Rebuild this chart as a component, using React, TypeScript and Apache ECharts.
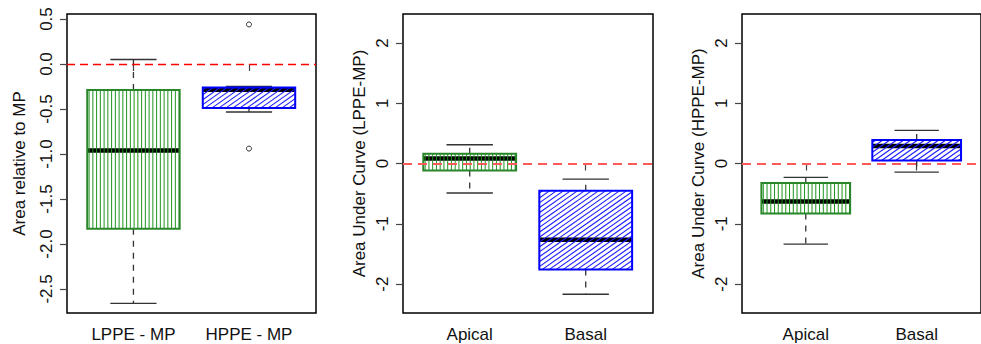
import React, { useEffect, useRef } from 'react';
import * as echarts from 'echarts';

// ---- data ----
const panel1Categories = ['LPPE - MP', 'HPPE - MP'];
// [min, Q1, median, Q3, max]
const panel1Stats = [
  [-2.66, -1.83, -0.96, -0.29, 0.05],
  [-0.533, -0.49, -0.285, -0.26, -0.25],
];
const panel1Outliers = [
  [2, 0.44],
  [2, -0.94],
];
const panel1Ticks = [-2.5, -2, -1.5, -1, -0.5, 0, 0.5];

const panel2Categories = ['Apical', 'Basal'];
const panel2Stats = [
  [-0.49, -0.115, 0.083, 0.16, 0.31],
  [-2.17, -1.76, -1.265, -0.45, -0.26],
];

const panel3Categories = ['Apical', 'Basal'];
const panel3Stats = [
  [-1.337, -0.83, -0.63, -0.325, -0.23],
  [-0.143, 0.05, 0.29, 0.39, 0.55],
];
const aucTicks = [-2, -1, 0, 1, 2];

const yTitles = ['Area relative to MP', 'Area Under Curve (LPPE-MP)', 'Area Under Curve (HPPE-MP)'];

const FONT = '"Liberation Sans", Arial, Helvetica, sans-serif';

function renderBox(params: any, api: any) {
  const x = api.value(0);
  const mn = api.value(1);
  const q1 = api.value(2);
  const md = api.value(3);
  const q3 = api.value(4);
  const mx = api.value(5);
  const styleIdx = api.value(6);
  const boxHalf = 0.4;
  const capHalf = 0.2;
  const pTopLeft = api.coord([x - boxHalf, q3]);
  const pBotRight = api.coord([x + boxHalf, q1]);
  const cx = api.coord([x, md])[0];
  const yMin = api.coord([x, mn])[1];
  const yMax = api.coord([x, mx])[1];
  const yMed = api.coord([x, md])[1];
  const capL = api.coord([x - capHalf, mn])[0];
  const capR = api.coord([x + capHalf, mn])[0];
  const x0 = pTopLeft[0];
  const y0 = pTopLeft[1];
  const x1 = pBotRight[0];
  const y1 = pBotRight[1];
  const whiskerStyle = { stroke: '#333', lineWidth: 1.3, lineDash: [6, 6] };
  const capStyle = { stroke: '#333', lineWidth: 1.4 };
  const children: any[] = [
    { type: 'line', shape: { x1: cx, y1: y0, x2: cx, y2: yMax }, style: whiskerStyle },
    { type: 'line', shape: { x1: cx, y1: y1, x2: cx, y2: yMin }, style: whiskerStyle },
    { type: 'line', shape: { x1: capL, y1: yMax, x2: capR, y2: yMax }, style: capStyle },
    { type: 'line', shape: { x1: capL, y1: yMin, x2: capR, y2: yMin }, style: capStyle },
    { type: 'rect', shape: { x: x0, y: y0, width: x1 - x0, height: y1 - y0 }, style: { fill: '#fff' } },
    { type: 'line', shape: { x1: x0, y1: yMed, x2: x1, y2: yMed }, style: { stroke: '#000', lineWidth: 4.5 } },
  ];
  let border = '#2a862a';
  if (styleIdx === 0) {
    const sp = 3.75;
    for (let xx = x0 + sp / 2; xx < x1 - 0.5; xx += sp) {
      children.push({
        type: 'line',
        shape: { x1: xx, y1: y0, x2: xx, y2: y1 },
        style: { stroke: '#1f951f', lineWidth: 1 },
      });
    }
  } else {
    border = '#0000ff';
    const ang = (35 * Math.PI) / 180;
    const t = Math.tan(ang);
    const hs = 7;
    const cStart = y0 + t * x0;
    const cEnd = y1 + t * x1;
    for (let c = cStart + (hs * t) / 2; c < cEnd; c += hs * t) {
      const xa = Math.max(x0, (c - y1) / t);
      const xb = Math.min(x1, (c - y0) / t);
      if (xb > xa) {
        children.push({
          type: 'line',
          shape: { x1: xa, y1: c - t * xa, x2: xb, y2: c - t * xb },
          style: { stroke: '#1a1aff', lineWidth: 1.1 },
        });
      }
    }
  }
  children.push({
    type: 'rect',
    shape: { x: x0, y: y0, width: x1 - x0, height: y1 - y0 },
    style: { fill: 'none', stroke: border, lineWidth: 2 },
  });
  return { type: 'group', children };
}

export default function App() {
  const ref = useRef<HTMLDivElement>(null);
  useEffect(() => {
    if (!ref.current) return;
    const chart = echarts.init(ref.current, null, { renderer: 'svg' });
    const grids = [
      { left: 67, top: 14, width: 249, height: 299 },
      { left: 403, top: 14, width: 250, height: 299 },
      { left: 742, top: 14, width: 250, height: 299 },
    ].map((g) => ({ ...g, show: true, borderColor: '#000', borderWidth: 1.5, backgroundColor: 'transparent' }));

    const cats = [panel1Categories, panel2Categories, panel3Categories];
    const stats = [panel1Stats, panel2Stats, panel3Stats];
    const yTicks = [panel1Ticks, aucTicks, aucTicks];
    const yRanges = [
      [-2.767, 0.556],
      [-2.48, 2.48],
      [-2.48, 2.48],
    ];
    const nameGaps = [39, 35, 35];

    const xAxes = cats.map((c, i) => ({
      type: 'value',
      gridIndex: i,
      min: 0.425,
      max: 2.58,
      axisLine: { show: false },
      splitLine: { show: false },
      axisTick: { show: true, customValues: [1, 2], length: 7, lineStyle: { color: '#444', width: 1.2 } },
      axisLabel: {
        show: true,
        customValues: [1, 2],
        margin: 13,
        fontSize: 17,
        fontFamily: FONT,
        color: '#111',
        formatter: (v: number) => c[Math.round(v) - 1] ?? '',
      },
    }));

    const yAxes = yTicks.map((ticks, i) => ({
      type: 'value',
      gridIndex: i,
      min: yRanges[i][0],
      max: yRanges[i][1],
      name: yTitles[i],
      nameLocation: 'middle',
      nameRotate: 90,
      nameGap: nameGaps[i],
      nameTextStyle: { fontSize: 17, fontFamily: FONT, color: '#111' },
      axisLine: { show: false },
      splitLine: { show: false },
      axisTick: { show: true, customValues: ticks, length: 7, lineStyle: { color: '#444', width: 1.2 } },
      axisLabel: {
        show: true,
        customValues: ticks,
        rotate: 90,
        margin: 12,
        fontSize: 17,
        fontFamily: FONT,
        color: '#111',
        formatter: (v: number) => (i === 0 ? v.toFixed(1) : String(Math.round(v))),
      },
    }));

    const series: any[] = [];
    stats.forEach((st, i) => {
      series.push({
        type: 'custom',
        xAxisIndex: i,
        yAxisIndex: i,
        z: 2,
        renderItem: renderBox,
        encode: { x: 0, y: [1, 2, 3, 4, 5] },
        data: st.map((s, k) => [k + 1, ...s, k]),
      });
      series.push({
        type: 'scatter',
        xAxisIndex: i,
        yAxisIndex: i,
        z: 5,
        symbol: 'circle',
        symbolSize: 5,
        itemStyle: { color: 'rgba(0,0,0,0)', borderColor: '#000', borderWidth: 1 },
        data: i === 0 ? panel1Outliers : [],
        markLine: {
          silent: true,
          symbol: ['none', 'none'],
          label: { show: false },
          lineStyle:
            i === 0
              ? { color: '#ff0000', type: [8, 5], width: 1.3 }
              : { color: '#ff5a5a', type: [9, 6], width: 2 },
          data: [{ yAxis: 0 }],
        },
      });
    });

    chart.setOption({
      animation: false,
      backgroundColor: '#fff',
      grid: grids,
      xAxis: xAxes,
      yAxis: yAxes,
      series,
    });
    return () => chart.dispose();
  }, []);
  return <div ref={ref} style={{ position: 'fixed', left: 0, top: 0, width: 981, height: 344 }} />;
}
